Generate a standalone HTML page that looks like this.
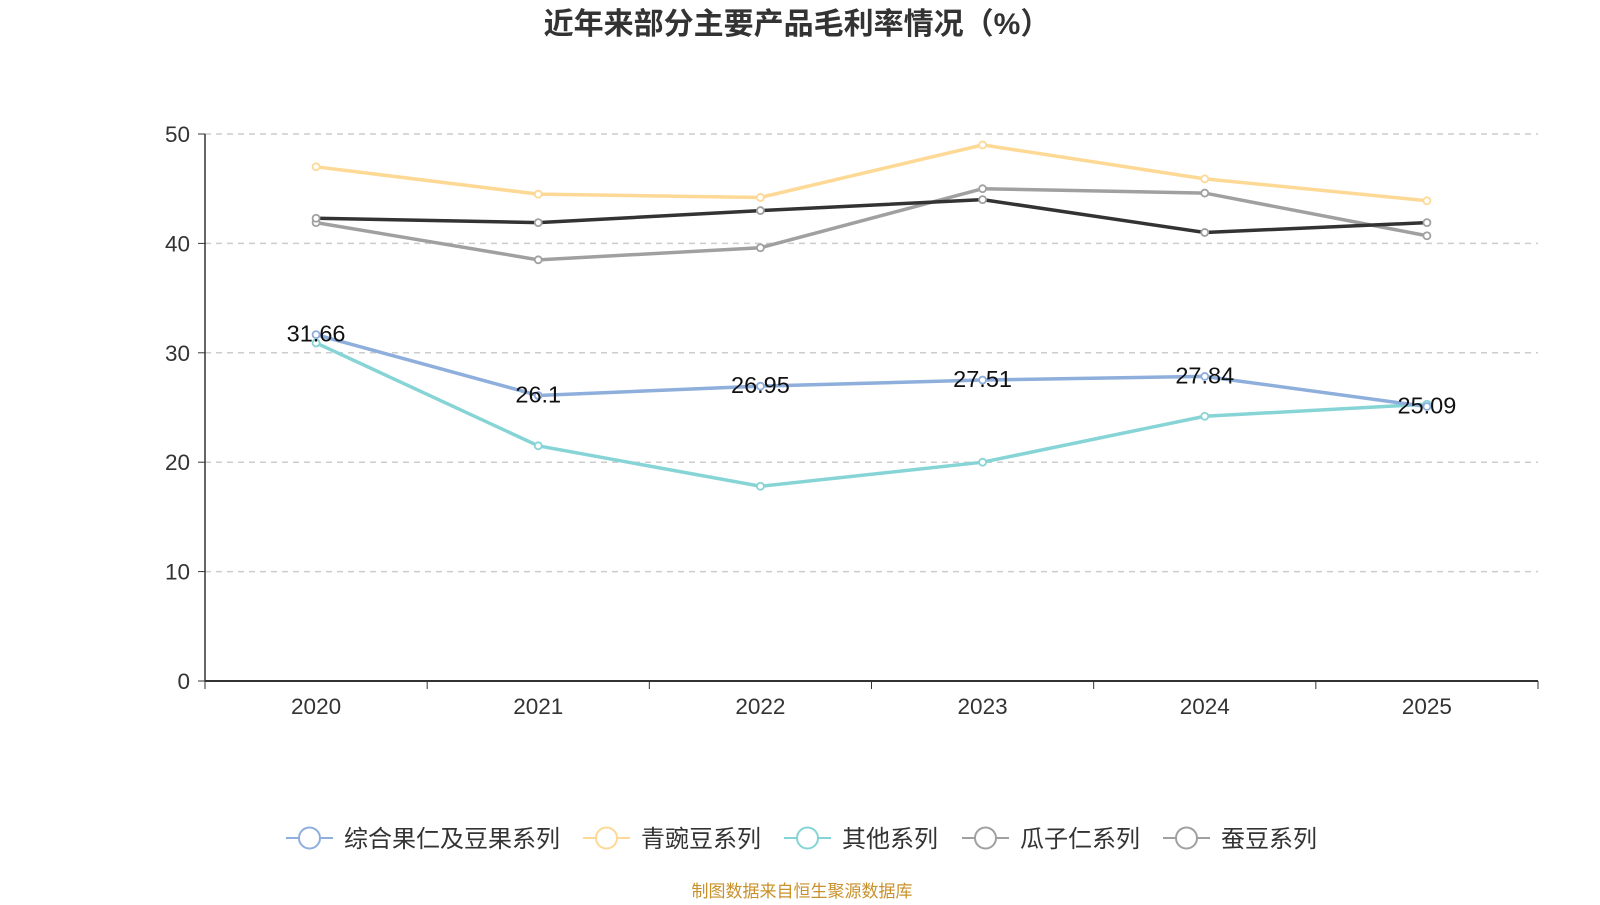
<!DOCTYPE html>
<html><head><meta charset="utf-8"><style>
body{margin:0;background:#fff;font-family:"Liberation Sans","Noto Sans CJK SC",sans-serif}
svg text{font-family:"Liberation Sans","Noto Sans CJK SC",sans-serif}
</style></head><body>
<svg id="c" width="1600" height="900" xmlns="http://www.w3.org/2000/svg">
<text x="797" y="34" text-anchor="middle" font-size="30" font-weight="bold" fill="#333">近年来部分主要产品毛利率情况（%）</text>
<g id="grid"></g><g id="lines"></g><g id="legend"></g>
<text x="802" y="897" text-anchor="middle" font-size="17" fill="#c9912a">制图数据来自恒生聚源数据库</text>
</svg>
<script>
const categories=["2020","2021","2022","2023","2024","2025"];
const yTicks=[0,10,20,30,40,50];
const seriesNames=["综合果仁及豆果系列","青豌豆系列","其他系列","瓜子仁系列","蚕豆系列"];
const seriesColors=["#8eaedc","#fdd995","#86d4d6","#a0a0a0","#333333"];
const legendColors=["#8eaedc","#fdd995","#86d4d6","#a0a0a0","#a0a0a0"];
const s0=[31.66,26.1,26.95,27.51,27.84,25.09];
const s1=[47.0,44.5,44.2,49.0,45.9,43.9];
const s2=[30.9,21.5,17.8,20.0,24.2,25.3];
const s3=[41.9,38.5,39.6,45.0,44.6,40.7];
const s4=[42.3,41.9,43.0,44.0,41.0,41.9];
const labels0=["31.66","26.1","26.95","27.51","27.84","25.09"];
const series=[s0,s1,s2,s3,s4];
const NS="http://www.w3.org/2000/svg";
const X0=205,X1=1538,Y0=681,Y1=134;
const step=(X1-X0)/categories.length;
const xs=i=>X0+step*(i+0.5);
const ys=v=>Y0-(v/50)*(Y0-Y1);
function mk(t,a,p){const e=document.createElementNS(NS,t);for(const k in a)e.setAttribute(k,a[k]);p.appendChild(e);return e;}
const g=document.getElementById('grid');
yTicks.forEach(v=>{
 if(v>0){const l=mk('line',{x1:X0,x2:X1,y1:ys(v),y2:ys(v),stroke:'#ccc','stroke-dasharray':'6,5','stroke-width':1.5},g);
 
 }
 const tk=mk('line',{x1:X0-7,x2:X0,y1:ys(v),y2:ys(v),stroke:'#333'},g);
 
 
 const t=mk('text',{x:X0-15,y:ys(v)+8,'text-anchor':'end','font-size':22.5,fill:'#333'},g);t.textContent=v;
 
 
});
const ya=mk('line',{x1:X0,x2:X0,y1:Y1,y2:Y0,stroke:'#333','stroke-width':1.5},g);


const xa=mk('line',{x1:X0,x2:X1,y1:Y0,y2:Y0,stroke:'#333','stroke-width':2},g);


for(let i=0;i<=categories.length;i++){const tk=mk('line',{x1:X0+step*i,x2:X0+step*i,y1:Y0,y2:Y0+8,stroke:'#333'},g);
 
 }
categories.forEach((c,i)=>{const t=mk('text',{x:xs(i),y:714,'text-anchor':'middle','font-size':22.5,fill:'#333'},g);t.textContent=c;
 
 });
const L=document.getElementById('lines');
const order=[1,3,4,2,0];
order.forEach(si=>{
 const d=series[si];
 const pl=mk('polyline',{points:d.map((v,i)=>xs(i)+','+ys(v)).join(' '),fill:'none',stroke:seriesColors[si],'stroke-width':3.5},L);
 
 
 d.forEach((v,i)=>{const c=mk('circle',{cx:xs(i),cy:ys(v),r:3.5,fill:'#fff',stroke:si==4?'#a0a0a0':seriesColors[si],'stroke-width':1.8},L);
 
 });
});
s0.forEach((v,i)=>{const t=mk('text',{x:xs(i),y:ys(v)+7,'text-anchor':'middle','font-size':23.5,fill:'#111'},L);t.textContent=labels0[i];
 
 });
const lg=document.getElementById('legend');
const lx=[286,583,784,962,1163];
seriesNames.forEach((n,i)=>{
 const grp=mk('g',{},lg);
 
 
 mk('line',{x1:lx[i],x2:lx[i]+47,y1:838,y2:838,stroke:legendColors[i],'stroke-width':2},grp);
 mk('circle',{cx:lx[i]+23.5,cy:838,r:10.5,fill:'#fff',stroke:legendColors[i],'stroke-width':2},grp);
 const t=mk('text',{x:lx[i]+58,y:847,'font-size':24,fill:'#333'},grp);t.textContent=n;
});
</script>
</body></html>
